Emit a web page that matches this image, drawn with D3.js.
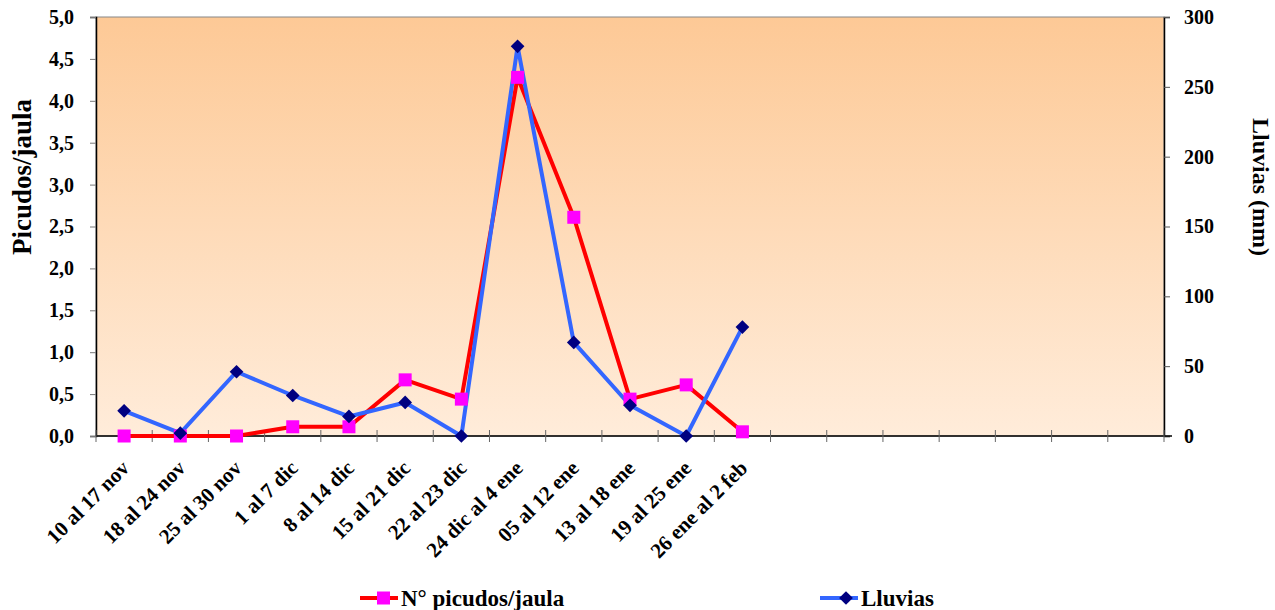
<!DOCTYPE html>
<html>
<head>
<meta charset="utf-8">
<script src="https://cdn.jsdelivr.net/npm/d3@7"></script>
<style>
  body { margin: 0; background: #fff; }
</style>
</head>
<body>
<div id="chart"></div>
<script>
var categories = ['10 al 17 nov', '18 al 24 nov', '25 al 30 nov', '1 al 7 dic', '8 al 14 dic',
  '15 al 21 dic', '22 al 23 dic', '24 dic al 4 ene', '05 al 12 ene', '13 al 18 ene',
  '19 al 25 ene', '26 ene al 2 feb', '', ' ', '  ', '   ', '    ', '     ', '      ']
var picudos = [0, 0, 0, 0.11, 0.11, 0.67, 0.44, 4.28, 2.61, 0.44, 0.61, 0.05]
var lluvias = [18, 2, 46, 29, 14, 24, 0, 279, 67, 22, 0, 78]
var leftTicks = [0, 0.5, 1, 1.5, 2, 2.5, 3, 3.5, 4, 4.5, 5]
var rightTicks = [0, 50, 100, 150, 200, 250, 300]

var FONT = 'Liberation Serif'
var svg_width = 1275, svg_height = 610
var margin = { top: 17, right: 111, bottom: 174, left: 96 }
var chart_width = svg_width - margin.left - margin.right
var chart_height = svg_height - margin.top - margin.bottom

var svg = d3.select('#chart').append('svg')
  .attr('width', svg_width)
  .attr('height', svg_height)

var defs = svg.append('defs')
var grad = defs.append('linearGradient').attr('id', 'bg')
  .attr('x1', 0).attr('y1', 0).attr('x2', 0).attr('y2', 1)
grad.append('stop').attr('offset', '0%').attr('stop-color', '#fdc996')
grad.append('stop').attr('offset', '100%').attr('stop-color', '#ffecda')

var g = svg.append('g')
  .attr('transform', 'translate(' + margin.left + ',' + margin.top + ')')

var xScale = d3.scaleBand().domain(categories).range([0, chart_width])
var yLeft = d3.scaleLinear().domain([0, 5]).range([chart_height, 0])
var yRight = d3.scaleLinear().domain([0, 300]).range([chart_height, 0])
var cx = function (i) { return xScale(categories[i]) + xScale.bandwidth() / 2 }

g.append('rect')
  .attr('width', chart_width).attr('height', chart_height)
  .attr('fill', 'url(#bg)')
  .attr('stroke', '#888').attr('stroke-width', 1)

function styleText(sel, size) {
  sel.attr('font-family', FONT).style('font-family', FONT).style('font-weight', 'bold')
    .style('font-size', size + 'px').attr('fill', '#000')
}

// left axis
var leftAxis = g.append('g')
  .call(d3.axisLeft(yLeft).tickValues(leftTicks).tickSize(6).tickPadding(16)
    .tickFormat(function (d) { return d3.format('.1f')(d).replace('.', ',') }))
leftAxis.attr('font-family', FONT)
leftAxis.select('.domain').attr('stroke', '#000').attr('stroke-width', 1.5)
leftAxis.selectAll('.tick line').attr('stroke', '#777')
styleText(leftAxis.selectAll('text'), 20)

// right axis
var rightAxis = g.append('g')
  .attr('transform', 'translate(' + chart_width + ',0)')
  .call(d3.axisRight(yRight).tickValues(rightTicks).tickSize(6).tickPadding(14))
rightAxis.attr('font-family', FONT)
rightAxis.select('.domain').attr('stroke', '#000').attr('stroke-width', 1.5)
rightAxis.selectAll('.tick line').attr('stroke', '#555')
styleText(rightAxis.selectAll('text'), 20)

// x axis, ticks between categories
var xAxis = g.append('g').attr('transform', 'translate(0,' + chart_height + ')')
xAxis.append('line').attr('x1', 0).attr('x2', chart_width + 8)
  .attr('stroke', '#000').attr('stroke-width', 1.5)
xAxis.selectAll('.sep')
  .data(d3.range(categories.length + 1))
  .enter().append('line')
  .attr('x1', function (i) { return i * xScale.step() })
  .attr('x2', function (i) { return i * xScale.step() })
  .attr('y1', -6).attr('y2', 6)
  .attr('stroke', '#666')
var xl = xAxis.selectAll('.xl')
  .data(categories.filter(function (c) { return c.trim() !== '' }))
  .enter().append('text')
  .attr('transform', function (d, i) { return 'translate(' + (cx(i) - 4) + ',23) rotate(-45)' })
  .attr('text-anchor', 'end')
  .attr('dy', '0.7em')
  .text(function (d) { return d })
styleText(xl, 21)

// axis titles
styleText(svg.append('text')
  .attr('transform', 'translate(22,177) rotate(-90)')
  .attr('text-anchor', 'middle')
  .attr('dy', '0.35em')
  .text('Picudos/jaula'), 27)
styleText(svg.append('text')
  .attr('transform', 'translate(1261,187) rotate(90)')
  .attr('text-anchor', 'middle')
  .attr('dy', '0.35em')
  .text('Lluvias (mm)'), 24)

// picudos line
var linePic = d3.line().x(function (d, i) { return cx(i) }).y(function (d) { return yLeft(d) })
g.append('path').datum(picudos)
  .attr('d', linePic).attr('fill', 'none')
  .attr('stroke', '#ff0000').attr('stroke-width', 4)
  .attr('stroke-linejoin', 'round')

// lluvias line
var lineLl = d3.line().x(function (d, i) { return cx(i) }).y(function (d) { return yRight(d) })
g.append('path').datum(lluvias)
  .attr('d', lineLl).attr('fill', 'none')
  .attr('stroke', '#3366ff').attr('stroke-width', 4)
  .attr('stroke-linejoin', 'round')

g.selectAll('.sq').data(picudos).enter().append('rect')
  .attr('x', function (d, i) { return cx(i) - 6.5 })
  .attr('y', function (d) { return yLeft(d) - 6.5 })
  .attr('width', 13).attr('height', 13)
  .attr('fill', '#ff00ff')

var diamond = d3.symbol().type(d3.symbolDiamond2).size(120)
g.selectAll('.dm').data(lluvias).enter().append('path')
  .attr('d', diamond)
  .attr('transform', function (d, i) { return 'translate(' + cx(i) + ',' + yRight(d) + ')' })
  .attr('fill', '#000080')

// legend
var leg = svg.append('g').attr('transform', 'translate(0,598)')
leg.append('line').attr('x1', 360).attr('x2', 398).attr('stroke', '#ff0000').attr('stroke-width', 4)
leg.append('rect').attr('x', 377).attr('y', -6.5).attr('width', 13).attr('height', 13).attr('fill', '#ff00ff')
styleText(leg.append('text').attr('x', 401).attr('dy', '0.35em').text('N° picudos/jaula'), 23)
leg.append('line').attr('x1', 820).attr('x2', 858).attr('stroke', '#3366ff').attr('stroke-width', 4)
leg.append('path').attr('d', diamond).attr('transform', 'translate(846,0)').attr('fill', '#000080')
styleText(leg.append('text').attr('x', 861).attr('dy', '0.35em').text('Lluvias'), 23)
</script>
</body>
</html>
